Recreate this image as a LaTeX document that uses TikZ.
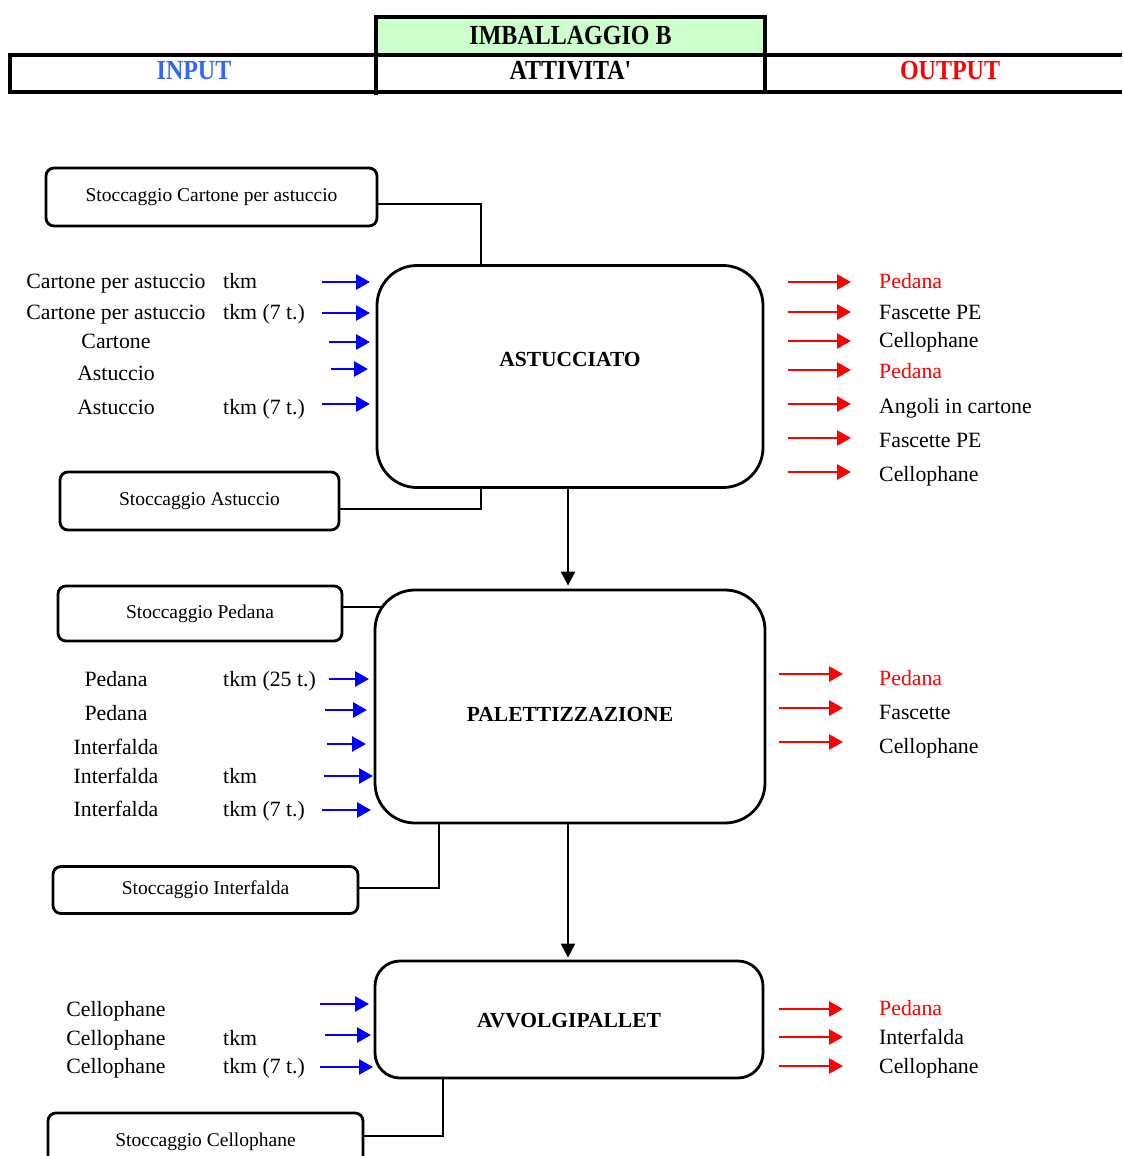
\documentclass[tikz,border=0pt]{standalone}
\usepackage{graphicx}
\usepackage{fontspec}
\setmainfont{Liberation Serif}
\newfontfamily\hdrfont{Liberation Serif}
\usetikzlibrary{arrows.meta}
\definecolor{hdrgreen}{RGB}{204,255,204}
\definecolor{hdrblue}{RGB}{51,102,255}
\begin{document}
\begin{tikzpicture}[x=1pt,y=-1pt,
  lbl/.style={font=\fontsize{21.8}{24}\selectfont, inner sep=0pt, anchor=base},
  hdr/.style={font=\hdrfont\bfseries\fontsize{24}{26}\selectfont, inner sep=0pt, anchor=base},
  proctext/.style={font=\bfseries\fontsize{21.5}{24}\selectfont, inner sep=0pt, anchor=base},
  store/.style={draw, line width=2.8pt, rounded corners=8pt, inner sep=0pt,
    font=\fontsize{19.5}{22}\selectfont},
  proc/.style={draw, line width=2.8pt, inner sep=0pt},
  inarr/.style={draw=blue, line width=2.8pt, -{Triangle[length=14pt,width=15pt]}},
  outarr/.style={draw=red, line width=2.8pt, -{Triangle[length=14pt,width=15pt]}},
  flow/.style={draw, line width=2.2pt, -{Triangle[length=14pt,width=14pt]}},
  link/.style={draw, line width=1.4pt},
  hline/.style={line width=3.5pt}]

\useasboundingbox (0,0) rectangle (1122,1156);
\fill[white] (0,0) rectangle (1122,1156);
\clip (0,0) rectangle (1122,1156);

% ---------- header ----------
\node[draw, fill=hdrgreen, line width=3.5pt, minimum width=389pt, minimum height=38pt,
  inner sep=0pt] (title) at (570.5,36) {};
\node[hdr] (titletext) at (570.5,45) {\scalebox{1}[1.15]{IMBALLAGGIO B}};
\draw[hline] (1122,55) -- (10,55) -- (10,92) -- (1122,92);
\draw[hline] (376,55) -- (376,95);
\draw[hline] (765,55) -- (765,92);
\node[hdr, text=hdrblue] (hin) at (194,80) {\scalebox{1}[1.15]{INPUT}};
\node[hdr] (hact) at (570.5,80) {\scalebox{1}[1.15]{ATTIVITA'}};
\node[hdr, text=red] (hout) at (950,80) {\scalebox{1}[1.15]{OUTPUT}};

% ---------- process boxes ----------
\node[proc, rounded corners=40pt, minimum width=386pt, minimum height=222pt] (ast) at (570,376.5) {};
\node[proctext] (asttext) at (570,366) {ASTUCCIATO};
\node[proc, rounded corners=40pt, minimum width=390pt, minimum height=233pt] (pal) at (570,706.5) {};
\node[proctext] (paltext) at (570,721) {PALETTIZZAZIONE};
\node[proc, rounded corners=25pt, minimum width=388pt, minimum height=117pt] (avv) at (569,1019.5) {};
\node[proctext] (avvtext) at (569,1027) {AVVOLGIPALLET};

% ---------- storage boxes ----------
\node[store, minimum width=331pt, minimum height=58pt] (sCart) at (211.5,197) {Stoccaggio Cartone per astuccio};
\node[store, minimum width=279pt, minimum height=58pt] (sAst) at (199.5,501) {Stoccaggio Astuccio};
\node[store, minimum width=284pt, minimum height=55pt] (sPed) at (200,613.5) {Stoccaggio Pedana};
\node[store, minimum width=305pt, minimum height=47pt] (sInt) at (205.5,890) {Stoccaggio Interfalda};
\node[store, minimum width=315pt, minimum height=58pt] (sCel) at (205.5,1142) {Stoccaggio Cellophane};

% ---------- storage links ----------
\coordinate (jA) at (481,0);
\coordinate (jP) at (382,0);
\coordinate (jI) at (439,0);
\coordinate (jC) at (443,0);
\draw[link] ([yshift=-7pt]sCart.east) -| (ast.north -| jA);
\draw[link] ([yshift=-8pt]sAst.east) -| (ast.south -| jA);
\coordinate (pedOut) at ([yshift=6.5pt]sPed.east);
\draw[link] (pedOut) -- (pedOut -| jP);
\coordinate (intOut) at ([yshift=2pt]sInt.east);
\draw[link] (intOut) -| (pal.south -| jI);
\coordinate (celOut) at ([yshift=6pt]sCel.east);
\draw[link] (celOut) -| (avv.south -| jC);

% ---------- flow between activities ----------
\draw[flow, shorten >=3pt] ([xshift=-2pt]ast.south) -- ([xshift=-2pt]pal.north);
\draw[flow, shorten >=2pt] ([xshift=-2pt]pal.south) -- ([xshift=-1pt]avv.north);

% ---------- ASTUCCIATO inputs ----------
\foreach \ay/\xa/\xb/\bl/\nm/\un [count=\i] in {
  282/322/370/288/Cartone per astuccio/tkm,
  313/322/370/319/Cartone per astuccio/tkm (7 t.),
  342/329/370/348/Cartone/,
  369/331/368/380/Astuccio/,
  404/322/370/414/Astuccio/tkm (7 t.)}{
  \node[lbl] (astin\i) at (116,\bl) {\nm};
  \node[lbl, anchor=base west] (astunit\i) at (223,\bl) {\un};
  \coordinate (astinA\i) at (\xa,\ay);
  \coordinate (astinB\i) at (\xb,\ay);
  \draw[inarr] (astinA\i) -- (astinB\i);
}
% ---------- ASTUCCIATO outputs ----------
\foreach \ay/\bl/\nm/\col [count=\i] in {
  282/288/Pedana/red,
  312/319/Fascette PE/black,
  341/347/Cellophane/black,
  370/378/Pedana/red,
  404/413/Angoli in cartone/black,
  438/447/Fascette PE/black,
  472/481/Cellophane/black}{
  \coordinate (astoutA\i) at (788,\ay);
  \coordinate (astoutB\i) at (851,\ay);
  \draw[outarr] (astoutA\i) -- (astoutB\i);
  \node[lbl, anchor=base west, text=\col] (astout\i) at (879,\bl) {\nm};
}

% ---------- PALETTIZZAZIONE inputs ----------
\foreach \ay/\xa/\xb/\bl/\nm/\un [count=\i] in {
  679/329/369/686/Pedana/tkm (25 t.),
  710/325/367/720/Pedana/,
  744/327/366/754/Interfalda/,
  776/324/373/783/Interfalda/tkm,
  810/322/371/816/Interfalda/tkm (7 t.)}{
  \node[lbl] (palin\i) at (116,\bl) {\nm};
  \node[lbl, anchor=base west] (palunit\i) at (223,\bl) {\un};
  \coordinate (palinA\i) at (\xa,\ay);
  \coordinate (palinB\i) at (\xb,\ay);
  \draw[inarr] (palinA\i) -- (palinB\i);
}
% ---------- PALETTIZZAZIONE outputs ----------
\foreach \ay/\bl/\nm/\col [count=\i] in {
  674/685/Pedana/red,
  708/719/Fascette/black,
  742/753/Cellophane/black}{
  \coordinate (paloutA\i) at (779,\ay);
  \coordinate (paloutB\i) at (843,\ay);
  \draw[outarr] (paloutA\i) -- (paloutB\i);
  \node[lbl, anchor=base west, text=\col] (palout\i) at (879,\bl) {\nm};
}

% ---------- AVVOLGIPALLET inputs ----------
\foreach \ay/\xa/\xb/\bl/\nm/\un [count=\i] in {
  1004/320/369/1016/Cellophane/,
  1035/325/371/1045/Cellophane/tkm,
  1067/320/373/1073/Cellophane/tkm (7 t.)}{
  \node[lbl] (avvin\i) at (116,\bl) {\nm};
  \node[lbl, anchor=base west] (avvunit\i) at (223,\bl) {\un};
  \coordinate (avvinA\i) at (\xa,\ay);
  \coordinate (avvinB\i) at (\xb,\ay);
  \draw[inarr] (avvinA\i) -- (avvinB\i);
}
% ---------- AVVOLGIPALLET outputs ----------
\foreach \ay/\bl/\nm/\col [count=\i] in {
  1009/1015/Pedana/red,
  1037/1044/Interfalda/black,
  1066/1073/Cellophane/black}{
  \coordinate (avvoutA\i) at (779,\ay);
  \coordinate (avvoutB\i) at (843,\ay);
  \draw[outarr] (avvoutA\i) -- (avvoutB\i);
  \node[lbl, anchor=base west, text=\col] (avvout\i) at (879,\bl) {\nm};
}
\end{tikzpicture}
\end{document}
